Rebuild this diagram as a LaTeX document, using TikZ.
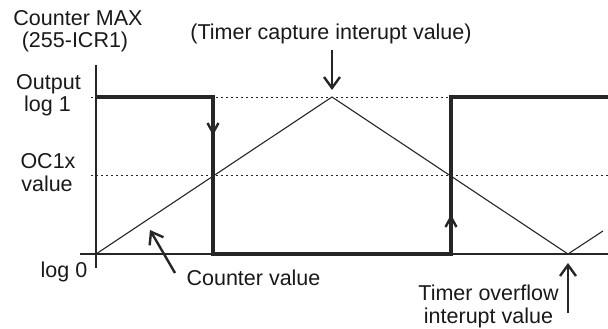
\documentclass[tikz,border=0pt]{standalone}
\usepackage{fontspec}
\setmainfont{Liberation Sans}
\usetikzlibrary{arrows.meta}
\begin{document}
\begin{tikzpicture}[x=1pt,y=-1pt,
  lbl/.style={anchor=base,inner sep=0pt,text=black!90,font=\fontsize{21.5}{23}\selectfont},
  axisline/.style={line width=2.4pt,draw=black!85},
  baseline0/.style={line width=1.8pt,draw=black!85},
  outsig/.style={line width=4pt,draw=black!85,line join=miter},
  counter/.style={line width=1.1pt,draw=black!85},
  guide/.style={line width=0.9pt,draw=black!85,dash pattern=on 2pt off 3pt},
  pointer/.style={line width=2.4pt,draw=black!85,-{Straight Barb[length=11pt,width=16pt]}},
  chevron/.style={line width=2.4pt,draw=black!85}]
\useasboundingbox (0,0) rectangle (608,329);
% coordinates
\coordinate (axtop) at (96,65);
\coordinate (axbot) at (96,268);
\coordinate (bl0) at (80,254);
\coordinate (bl1) at (608,254);
\coordinate (o) at (96,254);
\coordinate (peak) at (332,97);
\coordinate (valley) at (568,254);
\coordinate (cend) at (603,231);
\coordinate (hi0) at (96,97);
\coordinate (fallT) at (213,97);
\coordinate (fallB) at (213,254);
\coordinate (riseB) at (451,254);
\coordinate (riseT) at (451,97);
\coordinate (hiEnd) at (608,97);
\coordinate (g1a) at (91,97);
\coordinate (g1b) at (451,97);
\coordinate (g2a) at (91,175);
\coordinate (g2b) at (608,175);
% guides
\draw[guide] (g1a) -- (g1b);
\draw[guide] (g2a) -- (g2b);
% axes
\draw[axisline] (axtop) -- (axbot);
\draw[baseline0] (bl0) -- (bl1);
% counter
\draw[counter] (o) -- (peak) -- (valley) -- (cend);
% output
\draw[outsig] (hi0) -- (fallT) -- (fallB) -- (riseB) -- (riseT) -- (hiEnd);
% chevrons on edges
\coordinate (dnTip) at (213,133);
\coordinate (upTip) at (451,217);
\draw[chevron] ([xshift=-5.5pt,yshift=10pt]dnTip) -- (dnTip) -- ([xshift=5.5pt,yshift=10pt]dnTip);
\draw[chevron] ([xshift=-5.5pt,yshift=-10pt]upTip) -- (upTip) -- ([xshift=5.5pt,yshift=-10pt]upTip);
% labels
\node[lbl] (cmax1) at (78,25.5) {Counter MAX};
\node[lbl] (cmax2) at (75,47.5) {(255-ICR1)};
\node[lbl] (cap) at (331,40) {(Timer capture interupt value)};
\node[lbl] (out1) at (48.5,89) {Output};
\node[lbl] (out2) at (47.5,111) {log 1};
\node[lbl] (oc1) at (48,168) {OC1x};
\node[lbl] (oc2) at (47,191) {value};
\node[lbl] (log0) at (64,277) {log 0};
\node[lbl] (cval) at (253.5,285) {Counter value};
\node[lbl] (tov1) at (488.5,300) {Timer overflow};
\node[lbl] (tov2) at (488.5,323) {interupt value};
% pointers
\coordinate (capTail) at (332,50);
\coordinate (capTip) at (332,90);
\draw[pointer] (capTail) -- (capTip);
\coordinate (cvTail) at (175,273);
\coordinate (cvTip) at (150,230);
\draw[pointer] (cvTail) -- (cvTip);
\coordinate (ovTail) at (568,313);
\coordinate (ovTip) at (568,263);
\draw[pointer] (ovTail) -- (ovTip);
\end{tikzpicture}
\end{document}
